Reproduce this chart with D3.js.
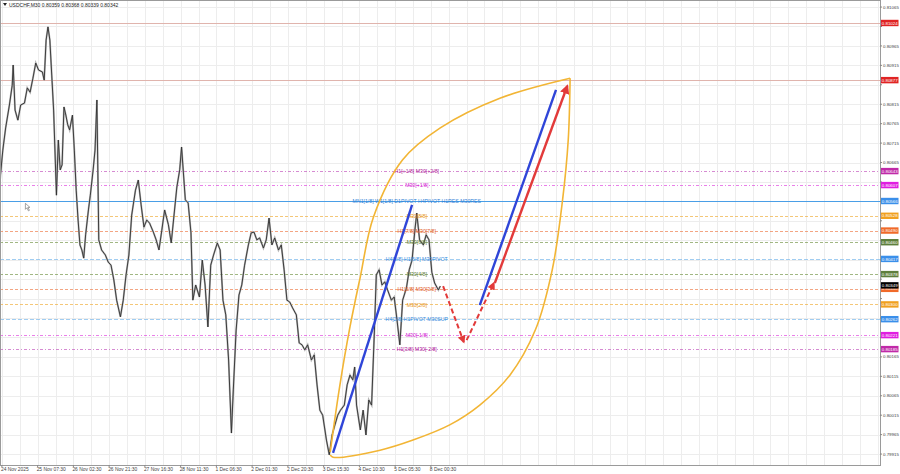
<!DOCTYPE html>
<html><head><meta charset="utf-8">
<script src="https://cdn.jsdelivr.net/npm/d3@7"></script>
<style>body{margin:0;background:#fff}svg{display:block;font-family:"Liberation Sans",Arial,sans-serif}</style>
</head><body>
<svg id="c" width="900" height="474"></svg>
<script>
// ---------- DATA ----------
const titleText = "USDCHF,M30  0.80359 0.80368 0.80339 0.80342";
const dateLabels = ["24 Nov 2025","25 Nov 07:30","26 Nov 02:30","26 Nov 21:30","27 Nov 16:30","28 Nov 11:30","1 Dec 06:30","2 Dec 01:30","2 Dec 20:30","3 Dec 15:30","4 Dec 10:30","5 Dec 05:30","8 Dec 00:30"];
const dateBars = [2,40,78,116,154,192,230,268,306,344,382,420,458];
const priceTicks = [0.81065,0.81015,0.80965,0.80915,0.80865,0.80815,0.80765,0.80715,0.80665,0.80615,0.80565,0.80515,0.80465,0.80415,0.80365,0.80315,0.80265,0.80215,0.80165,0.80115,0.80065,0.80015,0.79965,0.79915];
// [M30 bar index, price]
const series = [[0,0.80620],[3,0.80697],[6,0.80754],[10,0.80813],[13,0.80864],[14,0.80916],[16,0.80800],[19,0.80774],[22,0.80813],[26,0.80818],[29,0.80857],[32,0.80846],[35,0.80882],[38,0.80921],[41,0.80903],[45,0.80898],[47,0.80877],[49,0.80980],[51,0.81014],[53,0.80980],[55,0.80890],[57,0.80800],[60,0.80581],[62,0.80723],[64,0.80646],[66,0.80659],[68,0.80808],[70,0.80787],[72,0.80762],[74,0.80749],[77,0.80787],[79,0.80697],[81,0.80594],[83,0.80517],[85,0.80453],[87,0.80440],[89,0.80419],[91,0.80479],[94,0.80543],[96,0.80581],[99,0.80646],[101,0.80697],[103,0.80826],[105,0.80466],[108,0.80440],[112,0.80427],[115,0.80409],[118,0.80401],[121,0.80363],[124,0.80311],[128,0.80268],[131,0.80311],[134,0.80376],[137,0.80427],[140,0.80530],[144,0.80594],[147,0.80620],[150,0.80556],[153,0.80499],[156,0.80517],[159,0.80509],[163,0.80486],[166,0.80466],[169,0.80440],[172,0.80491],[175,0.80543],[179,0.80505],[182,0.80458],[185,0.80530],[188,0.80602],[191,0.80646],[193,0.80705],[197,0.80569],[200,0.80561],[203,0.80484],[205,0.80311],[208,0.80350],[212,0.80319],[215,0.80414],[218,0.80350],[221,0.80242],[224,0.80401],[227,0.80427],[231,0.80458],[234,0.80440],[237,0.80311],[240,0.80273],[243,0.80157],[246,0.79969],[248,0.80080],[251,0.80234],[254,0.80324],[257,0.80350],[260,0.80401],[264,0.80453],[267,0.80484],[270,0.80486],[273,0.80466],[276,0.80471],[280,0.80445],[283,0.80466],[286,0.80522],[289,0.80453],[292,0.80471],[296,0.80440],[299,0.80453],[302,0.80389],[305,0.80311],[308,0.80306],[311,0.80291],[315,0.80273],[318,0.80201],[321,0.80196],[324,0.80183],[327,0.80196],[331,0.80157],[334,0.80170],[337,0.80093],[340,0.80028],[343,0.80015],[347,0.79951],[350,0.79913],[353,0.79964],[356,0.79990],[359,0.80015],[362,0.80028],[366,0.80041],[369,0.80093],[372,0.80118],[375,0.80106],[377,0.80139],[379,0.80041],[383,0.79977],[386,0.80028],[389,0.79964],[392,0.80054],[395,0.80041],[398,0.80234],[400,0.80376],[403,0.80389],[406,0.80350],[409,0.80358],[412,0.80337],[416,0.80311],[419,0.80319],[422,0.80260],[425,0.80196],[428,0.80311],[432,0.80342],[435,0.80389],[438,0.80414],[441,0.80491],[443,0.80535],[446,0.80466],[450,0.80453],[453,0.80479],[456,0.80466],[459,0.80383],[462,0.80355],[466,0.80337],[468,0.80347]];

const levelPrices = [0.81024,0.80877,0.80643,0.80607,0.80566,0.80528,0.80490,0.80460,0.80417,0.80378,0.80340,0.80300,0.80262,0.80221,0.80185];
const levelKinds  = ["res","res","mag2","mag1","blue","org","red","grn","lblue","grn","red","org","lblue","mag1","mag2"];
const levelTexts  = ["","","H1[+1/8] M30[+2/8]","M30[+1/8]","MN1[1/8] W1[1/8] D1PIVOT H4PIVOT H1RES M30RES","M30[8/8]","H1[7/8] M30[7/8]","M30[6/8]","H4[3/8] H1[6/8] M30PIVOT","M30[4/8]","H1[5/8] M30[3/8]","M30[2/8]","H4[2/8] H1PIVOT M30SUP","M30[-1/8]","H1[3/8] M30[-2/8]"];
const currentPrice = 0.80349;
const levelTextBar = 443;

// annotation geometry in (bar, price)
const arcUpper = [[351,0.79920],[361,0.80088],[372,0.80242],[383,0.80371],[397,0.80525],[428,0.80672],[468,0.80754],[532,0.80831],[606,0.80882]];
const arcLower = [[351,0.79913],[354,0.79907],[404,0.79925],[439,0.79951],[478,0.79990],[510,0.80041],[542,0.80118],[569,0.80234],[587,0.80389],[598,0.80569],[604,0.80723],[606,0.80882]];
const blueLines = [[[354,0.79918],[438,0.80556]],[[510,0.80298],[591,0.80852]]];
const redSolid = [[526,0.80355],[603,0.80862]];
const redDashed = [[[471,0.80347],[493,0.80203]],[[496,0.80208],[525,0.80355]]];
const cursorAt = [27, 0.80560];

// ---------- STYLES ----------
const kindStyle = {
  res:  {line:"#e0b4ad", lbl:"#e02424", dash:null, txt:"#c0392b"},
  mag2: {line:"#c65bc0", lbl:"#c02aa8", dash:"3,2,1,2", txt:"#b0239a"},
  mag1: {line:"#e04be0", lbl:"#e01ee0", dash:"3,2,1,2", txt:"#d21fd2"},
  blue: {line:"#4a9ee6", lbl:"#3a8fea", dash:null, txt:"#2f7fd6"},
  org:  {line:"#f0b040", lbl:"#f0a020", dash:"3,2", txt:"#e6951a"},
  red:  {line:"#ee8050", lbl:"#f06a2a", dash:"3,2", txt:"#e0602a"},
  grn:  {line:"#7a9a50", lbl:"#5e7f3c", dash:"3,2", txt:"#5f7d3a"},
  lblue:{line:"#7ab8ec", lbl:"#3a8fea", dash:"4,2", txt:"#3b8ee0"}
};

// ---------- CHART ----------
const svg = d3.select("#c");
const W = 900, H = 474;
const plotR = 880, plotB = 465;
const x = d3.scaleLinear().domain([0, 935.4]).range([0, plotR]);
const y = d3.scaleLinear().domain([0.79910, 0.81060]).range([456, 9]);

svg.append("rect").attr("width",W).attr("height",H).attr("fill","#fff");
const g = svg.append("g");
svg.append("clipPath").attr("id","pc").append("rect").attr("x",1).attr("y",1).attr("width",plotR-1).attr("height",plotB-1);
const plot = g.append("g").attr("clip-path","url(#pc)");

// grid
plot.selectAll(".hg").data(priceTicks).join("line")
  .attr("x1",0).attr("x2",plotR).attr("y1",d=>Math.round(y(d))+0.5).attr("y2",d=>Math.round(y(d))+0.5)
  .attr("stroke","#ededed").attr("stroke-width",1);
const vgBars = d3.range(2, 935, 19);
plot.selectAll(".vg").data(vgBars).join("line")
  .attr("x1",d=>Math.round(x(d))+0.5).attr("x2",d=>Math.round(x(d))+0.5).attr("y1",0).attr("y2",plotB)
  .attr("stroke","#ededed").attr("stroke-width",1);

// level lines
levelPrices.forEach((p,i)=>{
  const s = kindStyle[levelKinds[i]];
  plot.append("line").attr("x1",0).attr("x2",plotR)
    .attr("y1",Math.round(y(p))+0.5).attr("y2",Math.round(y(p))+0.5)
    .attr("stroke",s.line).attr("stroke-width",1)
    .attr("stroke-dasharray",s.dash).attr("opacity", s.dash?0.7:1);
});

// price series
const line = d3.line().x(d=>x(d[0])).y(d=>y(d[1]));
plot.append("path").datum(series).attr("d",line).attr("fill","none").attr("stroke","#b4b4b4").attr("stroke-width",1.9).attr("stroke-linejoin","miter");
plot.append("path").datum(series).attr("d",line).attr("fill","none").attr("stroke","#303030").attr("stroke-width",0.9).attr("stroke-linejoin","miter");

// mouse cursor
const cx = x(cursorAt[0]), cy = y(cursorAt[1]);
plot.append("path").attr("d",`M${cx},${cy} l0,6 l1.5,-1.5 l1.5,3 l1,-0.5 l-1.5,-3 l2,0 z`).attr("fill","#fff").attr("stroke","#666").attr("stroke-width",0.6);

// level text
levelPrices.forEach((p,i)=>{
  if(!levelTexts[i]) return;
  const s = kindStyle[levelKinds[i]];
  plot.append("text").attr("x",x(levelTextBar)).attr("y",y(p)+2.2)
    .attr("text-anchor","middle").attr("font-size",5.2).attr("fill",s.txt).text(levelTexts[i]);
});

// orange lens arcs
const cl = d3.line().x(d=>x(d[0])).y(d=>y(d[1])).curve(d3.curveCatmullRom.alpha(0.5));
[arcUpper, arcLower].forEach(a=>{
  plot.append("path").datum(a).attr("d",cl).attr("fill","none").attr("stroke","#f2b535").attr("stroke-width",1.6);
});

// arrow markers
const defs = svg.append("defs");
defs.append("marker").attr("id","arr").attr("viewBox","0 0 10 10").attr("refX",8).attr("refY",5)
  .attr("markerWidth",4).attr("markerHeight",4).attr("orient","auto")
  .append("path").attr("d","M0,0 L10,5 L0,10 z").attr("fill","#e23a3a");

blueLines.forEach(b=>{
  plot.append("path").datum(b).attr("d",line).attr("stroke","#2f45d8").attr("stroke-width",2.4).attr("fill","none");
});
plot.append("path").datum(redSolid).attr("d",line).attr("stroke","#e23a3a").attr("stroke-width",2.4).attr("fill","none").attr("marker-end","url(#arr)");
redDashed.forEach(b=>{
  plot.append("path").datum(b).attr("d",line).attr("stroke","#e23a3a").attr("stroke-width",2)
    .attr("stroke-dasharray","5,3").attr("fill","none").attr("marker-end","url(#arr)");
});

// frame
g.append("rect").attr("x",0.5).attr("y",0.5).attr("width",plotR).attr("height",plotB).attr("fill","none").attr("stroke","#9a9a9a");

// right axis
const ax = g.append("g");
const labelPrices = levelPrices.concat([currentPrice]);
priceTicks.forEach(p=>{
  const yy = y(p);
  if (yy < 2 || yy > plotB) return;
  ax.append("line").attr("x1",plotR).attr("x2",plotR+2).attr("y1",yy).attr("y2",yy).attr("stroke","#888");
  const blocked = labelPrices.some(lp => Math.abs(y(lp) - yy) < 6.5);
  if (blocked) return;
  ax.append("text").attr("x",plotR+3).attr("y",yy+1.6).attr("font-size",4.4).attr("fill","#444").text(p.toFixed(5));
});
function priceLabel(p, bg){
  const yy = y(p);
  ax.append("rect").attr("x",plotR+1).attr("y",yy-3.2).attr("width",17.5).attr("height",6.4).attr("fill",bg);
  ax.append("text").attr("x",plotR+1.8).attr("y",yy+1.6).attr("font-size",4.4).attr("fill","#fff").text(p.toFixed(5));
}
levelPrices.forEach((p,i)=> priceLabel(p, kindStyle[levelKinds[i]].lbl));
priceLabel(currentPrice, "#000");

// date axis
dateBars.forEach((b,i)=>{
  const xx = x(b);
  ax.append("line").attr("x1",xx).attr("x2",xx).attr("y1",plotB).attr("y2",plotB+2).attr("stroke","#888");
  ax.append("text").attr("x", i===0 ? 1 : xx-1).attr("y",471).attr("font-size",4.9).attr("fill","#444").text(dateLabels[i]);
});

// title
g.append("path").attr("d","M3,3 L7,3 L5,6 z").attr("fill","#222");
g.append("text").attr("x",9).attr("y",6.5).attr("font-size",5).attr("fill","#222").text(titleText);
</script>
</body></html>
